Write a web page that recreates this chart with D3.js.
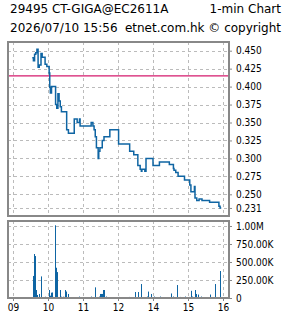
<!DOCTYPE html>
<html>
<head>
<meta charset="utf-8">
<script src="https://cdn.jsdelivr.net/npm/d3@7"></script>
<style>
  html, body { margin: 0; padding: 0; background: #fff; }
  svg { display: block; }
  .title { font-family: "DejaVu Sans", sans-serif; font-size: 12px; fill: #000; }
  .axis text { font-family: "DejaVu Sans Condensed", "DejaVu Sans", sans-serif; font-stretch: condensed; font-size: 10px; fill: #000; }
  .axis path { display: none; }
  .axis line { stroke: #888; }
  .grid line { stroke: #bbb; stroke-width: 1; stroke-dasharray: 3,3; shape-rendering: crispEdges; }
</style>
</head>
<body>
<div id="chart"></div>
<script>
// header texts
const titleLeft = "29495 CT-GIGA@EC2611A";
const titleRight = "1-min Chart";
const stampText = "2026/07/10 15:56";
const sourceText = "etnet.com.hk \u00a9 copyright";

// time axis (minutes of day, lunch 12:00-13:00 folded away)
const timeTicks = ["09:00", "10:00", "11:00", "12:00", "14:00", "15:00", "16:00"];
const timeTickLabels = ["09", "10", "11", "12", "14", "15", "16"];

// price axis
const priceTicks = [0.45, 0.425, 0.4, 0.375, 0.35, 0.325, 0.3, 0.275, 0.25, 0.231];
const prevClose = 0.415;

// volume axis
const volumeTicks = [0, 250000, 500000, 750000, 1000000];
const volumeTickLabels = ["0", "250.00K", "500.00K", "750.00K", "1.00M"];

// price changes (step after)
const priceTimes = [
  "09:33", "09:35", "09:37", "09:39", "09:41", "09:43", "09:45", "09:48", "09:50", "09:55",
  "09:58", "10:02", "10:03", "10:04", "10:06", "10:13", "10:15", "10:17", "10:19", "10:21",
  "10:23", "10:32", "10:35", "10:45", "10:50", "10:54", "10:55", "11:14", "11:17", "11:19",
  "11:21", "11:23", "11:26", "11:27", "11:29", "11:33", "11:36", "11:46", "13:01", "13:20",
  "13:27", "13:34", "13:38", "13:40", "13:41", "13:46", "13:48", "14:00", "14:11", "14:28",
  "14:35", "14:36", "14:39", "14:43", "14:54", "15:03", "15:05", "15:11", "15:12", "15:15",
  "15:19", "15:24", "15:37", "15:53", "15:55", "15:57"
];
const priceValues = [
  0.440, 0.436, 0.445, 0.447, 0.452, 0.427, 0.430, 0.446, 0.441, 0.431,
  0.428, 0.419, 0.399, 0.391, 0.400, 0.375, 0.370, 0.390, 0.380, 0.372,
  0.365, 0.340, 0.335, 0.355, 0.350, 0.355, 0.345, 0.350, 0.345, 0.340,
  0.330, 0.315, 0.300, 0.310, 0.315, 0.325, 0.330, 0.340, 0.320, 0.310,
  0.305, 0.290, 0.285, 0.282, 0.285, 0.282, 0.300, 0.290, 0.295, 0.2915,
  0.286, 0.2835, 0.2805, 0.275, 0.270, 0.263, 0.2535, 0.261, 0.245, 0.2415,
  0.2435, 0.2415, 0.239, 0.2335, 0.231, 0.231
];

// volume bars
const volumeTimes = [
  "09:34", "09:36", "09:37", "09:39", "09:41", "09:44", "09:48", "09:55", "10:01", "10:02",
  "10:04", "10:05", "10:06", "10:07", "10:09", "10:12", "10:14", "10:15", "10:16", "10:20",
  "10:23", "10:25", "10:27", "10:29", "10:31", "10:34", "10:53", "11:14", "11:21", "11:27",
  "11:29", "11:30", "11:32", "11:33", "11:34", "11:36", "11:39", "13:02", "13:19", "13:29",
  "13:35", "13:39", "13:49", "13:51", "13:57", "14:02", "14:12", "14:30", "14:35", "14:41",
  "14:46", "14:55", "15:02", "15:05", "15:07", "15:12", "15:14", "15:17", "15:23", "15:38",
  "15:46", "15:54", "15:55"
];
const volumeValues = [
  306000, 611000, 583000, 111000, 42000, 56000, 300000, 18000, 10000, 111000,
  32000, 74000, 74000, 74000, 15000, 1010000, 420000, 360000, 40000, 111000,
  18000, 18000, 15000, 111000, 90000, 56000, 20000, 20000, 148000, 20000,
  56000, 56000, 56000, 56000, 111000, 111000, 20000, 15000, 15000, 83000,
  83000, 194000, 20000, 89000, 56000, 20000, 20000, 63000, 20000, 180000,
  15000, 20000, 15000, 100000, 20000, 111000, 56000, 48000, 20000, 48000,
  194000, 15000, 375000
];

const W = 285, H = 318;
const plot = { left: 8, right: 229 };
const pricePanel = { top: 42, bottom: 216 };
const volPanel = { top: 221, bottom: 298 };
const lineColor = "#0f65a3";

const toMin = s => { const [h, m] = s.split(":").map(Number); return h * 60 + m; };

const x = d3.scaleLinear()
  .domain([540, 720, 780, 960])
  .range([13, 118, 118, 223]);

const y = d3.scaleLinear()
  .domain([0.2198, 0.4621])
  .range([pricePanel.bottom, pricePanel.top]);

const yv = d3.scaleLinear()
  .domain([0, 1069400])
  .range([volPanel.bottom, volPanel.top]);

const svg = d3.select("#chart").append("svg")
  .attr("width", W)
  .attr("height", H);

// header
svg.append("text").attr("class", "title").attr("x", 10).attr("y", 12.5).text(titleLeft);
svg.append("text").attr("class", "title").attr("x", 281).attr("y", 12.5)
  .attr("text-anchor", "end").text(titleRight);
svg.append("text").attr("class", "title").attr("x", 10).attr("y", 31.5).text(stampText);
svg.append("text").attr("class", "title").attr("x", 281).attr("y", 31.5)
  .attr("text-anchor", "end").text(sourceText);

function drawGrid(panel, yScale, yTicks) {
  const g = svg.append("g").attr("class", "grid");
  g.selectAll(".h").data(yTicks).enter().append("line")
    .attr("x1", plot.left).attr("x2", plot.right)
    .attr("y1", d => Math.round(yScale(d)) + 0.5)
    .attr("y2", d => Math.round(yScale(d)) + 0.5);
  g.selectAll(".v").data(timeTicks).enter().append("line")
    .attr("x1", d => Math.round(x(toMin(d))) + 0.5)
    .attr("x2", d => Math.round(x(toMin(d))) + 0.5)
    .attr("y1", panel.top).attr("y2", panel.bottom);
}

function drawFrame(panel) {
  svg.append("rect")
    .attr("x", plot.left).attr("y", panel.top)
    .attr("width", plot.right - plot.left)
    .attr("height", panel.bottom - panel.top)
    .attr("fill", "none")
    .attr("stroke", "#888")
    .attr("stroke-width", 2);
}

// price panel
drawGrid(pricePanel, y, priceTicks);

svg.append("line")
  .attr("x1", plot.left).attr("x2", plot.right)
  .attr("y1", y(prevClose)).attr("y2", y(prevClose))
  .attr("stroke", "#d41a6c").attr("stroke-width", 1.2);

const priceData = priceTimes.map((t, i) => ({ t: toMin(t), v: priceValues[i] }));
svg.append("path")
  .datum(priceData)
  .attr("fill", "none")
  .attr("stroke", lineColor)
  .attr("stroke-width", 1.5)
  .attr("d", d3.line().curve(d3.curveStepAfter).x(d => x(d.t)).y(d => y(d.v)));

drawFrame(pricePanel);

svg.append("g")
  .attr("class", "axis")
  .attr("transform", `translate(${plot.right},0)`)
  .call(d3.axisRight(y).tickValues(priceTicks).tickSize(3).tickPadding(4)
    .tickFormat(d3.format(".3f")));

// volume panel
drawGrid(volPanel, yv, volumeTicks.slice(1));

const volData = volumeTimes.map((t, i) => ({ t: toMin(t), v: volumeValues[i] }));
svg.append("g").selectAll("rect")
  .data(volData)
  .enter().append("rect")
  .attr("x", d => Math.round(x(d.t)))
  .attr("width", 1)
  .attr("y", d => yv(d.v))
  .attr("height", d => yv(0) - yv(d.v))
  .attr("fill", lineColor);

drawFrame(volPanel);

svg.append("g")
  .attr("class", "axis")
  .attr("transform", `translate(${plot.right},0)`)
  .call(d3.axisRight(yv).tickValues(volumeTicks).tickSize(3).tickPadding(4)
    .tickFormat((d, i) => volumeTickLabels[i]));

svg.append("g")
  .attr("class", "axis")
  .attr("transform", `translate(0,${volPanel.bottom})`)
  .call(d3.axisBottom(x).tickValues(timeTicks.map(toMin)).tickSize(3).tickPadding(3)
    .tickFormat((d, i) => timeTickLabels[i]));
</script>
</body>
</html>
